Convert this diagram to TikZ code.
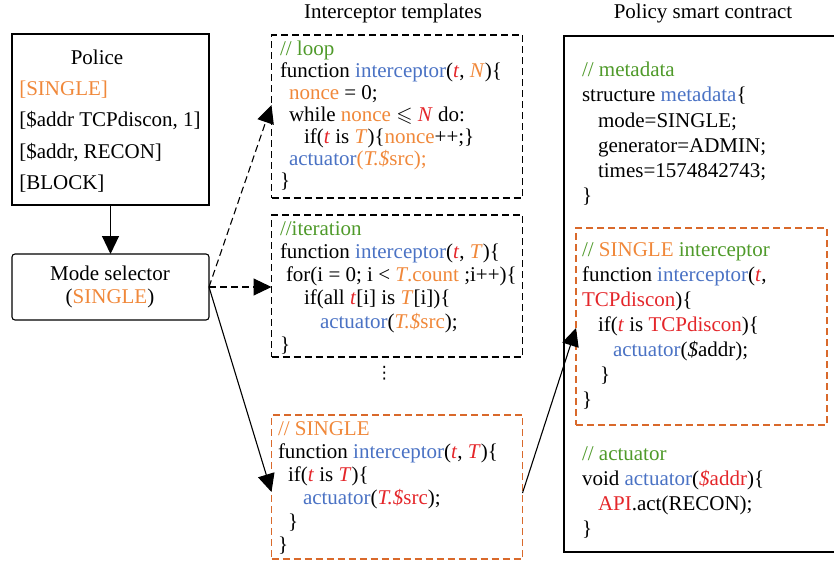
\documentclass[tikz,border=0pt]{standalone}
\usepackage{amssymb}
\usepackage{fontspec}
\setmainfont{Liberation Serif}
\newfontfamily\symfont{DejaVu Sans}
\usetikzlibrary{arrows.meta}

\definecolor{cblue}{HTML}{4A72C4}
\definecolor{cred}{HTML}{E4262A}
\definecolor{corange}{HTML}{F0883A}
\definecolor{cgreen}{HTML}{4F9A2A}
\definecolor{cframe}{HTML}{D9692B}

\newcommand\kb[1]{\textcolor{cblue}{#1}}
\newcommand\kr[1]{\textcolor{cred}{#1}}
\newcommand\ko[1]{\textcolor{corange}{#1}}
\newcommand\kg[1]{\textcolor{cgreen}{#1}}
\newcommand\topstrut{\rule{0pt}{16pt}}
\newcommand\ind[1]{\hspace*{#1pt}}

\tikzset{
  every node/.style={inner sep=0pt, outer sep=0pt},
  box/.style={draw, line width=1.1pt, minimum width=#1},
  dbox/.style={draw, line width=1.1pt, dash pattern=on 7pt off 4pt},
  obox/.style={draw=cframe, line width=1.1pt, dash pattern=on 7pt off 4pt},
  code/.style={anchor=north west, align=left, font=\fontsize{21}{#1}\selectfont},
  title/.style={anchor=base, font=\fontsize{21}{25}\selectfont},
  arr/.style={line width=1.1pt, -{Triangle[length=18pt,width=17pt]}},
  darr/.style={arr, dash pattern=on 7pt off 4pt},
}

\begin{document}
\begin{tikzpicture}[x=1pt,y=-1pt]
\useasboundingbox (0,0) rectangle (834,562);
\clip (0,0) rectangle (834,562);

% column titles
\node[title] (t1) at (393,18) {Interceptor templates};
\node[title] (t2) at (703,18) {Policy smart contract};

% police box
\node[box=197pt, minimum height=171pt] (police) at (110.5,119.5) {};
\node[anchor=base, font=\fontsize{21}{25}\selectfont] (ptitle) at (97,64.3) {Police};
\node[code=31.6] (ptxt) at (19.3,95-16) {\topstrut\ko{[SINGLE]}\\\relax
[\$addr TCPdiscon, 1]\\\relax
[\$addr, RECON]\\\relax
[BLOCK]};

% mode selector
\node[box=197pt, minimum height=66pt, rounded corners=3pt] (mode) at (110.5,287) {};
\node[anchor=north, align=center, font=\fontsize{21}{23}\selectfont] (mtxt) at (110,280-16) {\topstrut Mode selector\\ (\ko{SINGLE})};

% interceptor templates
\node[dbox, minimum width=251pt, minimum height=163pt] (loop) at (397,116.5) {};
\node[code=22] (looptxt) at (280,55-16) {\topstrut\kg{// loop}\\
function \kb{interceptor}(\kr{\textit{t}}, \ko{\textit{N}})\{\\
\ind{9}\ko{nonce} = 0;\\
\ind{9}while \ko{nonce} $\leqslant$ \kr{\textit{N}} do:\\
\ind{24}if(\kr{\textit{t}} is \ko{\textit{T}})\{\ko{nonce}++;\}\\
\ind{9}\kb{actuator}\ko{(\textit{T.\$}src);}\\
\}};

\node[dbox, minimum width=251pt, minimum height=142pt] (iter) at (397,286) {};
\node[code=23.3] (itertxt) at (280,235-16) {\topstrut\kg{//iteration}\\
function \kb{interceptor}(\kr{\textit{t}}, \ko{\textit{T}})\{\\
\ind{6}for(i = 0; i < \ko{\textit{T}.count} ;i++)\{\\
\ind{24}if(all \kr{\textit{t}}[i] is \ko{\textit{T}}[i])\{\\
\ind{40}\kb{actuator}(\ko{\textit{T.\$}src});\\
\}};

\node[font=\symfont\fontsize{17}{20}\selectfont] (dots) at (384.3,373) {⋮};

\node[obox, minimum width=251pt, minimum height=144pt] (single) at (397,487) {};
\node[code=23.3] (singletxt) at (278,435-16) {\topstrut\ko{// SINGLE}\\
function \kb{interceptor}(\kr{\textit{t}}, \kr{\textit{T}})\{\\
\ind{10}if(\kr{\textit{t}} is \kr{\textit{T}})\{\\
\ind{25}\kb{actuator}(\kr{\textit{T.\$}src});\\
\ind{10}\}\\
\}};

% policy smart contract
\node[box=277pt, minimum height=516pt] (contract) at (702.5,294) {};
\node[code=25.2] (metatxt) at (582,76.7-16) {\topstrut\kg{// metadata}\\
structure \kb{metadata}\{\\
\ind{16}mode=SINGLE;\\
\ind{16}generator=ADMIN;\\
\ind{16}times=1574842743;\\
\}};

\node[obox, minimum width=251pt, minimum height=197pt] (inner) at (701.5,326.5) {};
\node[code=25] (innertxt) at (582,256.7-16) {\topstrut\kg{//} \ko{SINGLE} \kg{interceptor}\\
function \kb{interceptor}(\kr{\textit{t}},\\
\kr{TCPdiscon})\{\\
\ind{16}if(\kr{\textit{t}} is \kr{TCPdiscon})\{\\
\ind{31}\kb{actuator}(\textit{\$}addr);\\
\ind{18}\}\\
\}};

\node[code=25] (acttxt) at (582,460-16) {\topstrut\kg{// actuator}\\
void \kb{actuator}(\kr{\textit{\$}addr})\{\\
\ind{16}\kr{API}.act(RECON);\\
\}};

% connectors
\draw[arr] (police.south) -- (mode.north);
\draw[darr] (mode.east) -- (loop.west |- 0,105);
\draw[darr] (mode.east) -- (mode.east -| iter.west);
\draw[arr] (mode.east) -- (single.west |- 0,492);
\draw[arr] (single.east |- 0,493) -- (inner.west |- 0,328);
\end{tikzpicture}
\end{document}
